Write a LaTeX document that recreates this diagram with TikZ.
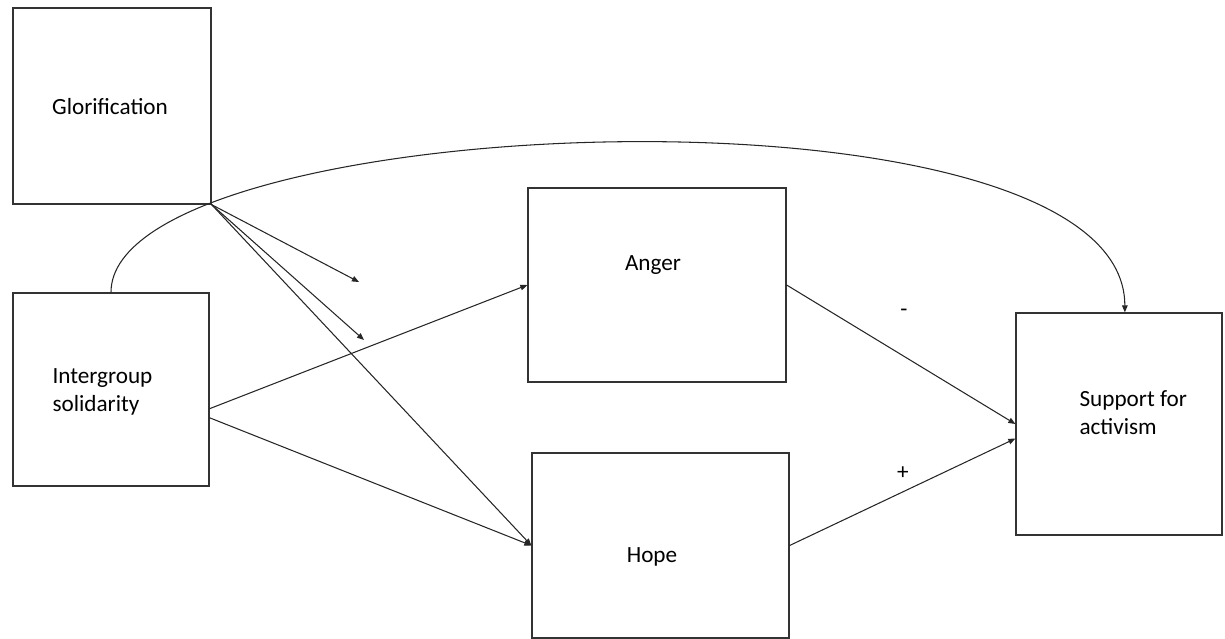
\documentclass[tikz,border=0pt]{standalone}
\usepackage{fontspec}
\setmainfont{Carlito}
\usetikzlibrary{arrows.meta}

\begin{document}
\begin{tikzpicture}[x=0.02cm,y=-0.02cm,>={Triangle[length=4pt,width=3.2pt]},
  font=\fontsize{13.2}{16}\selectfont,line width=0.6pt,
  box/.style={draw=black!80,line width=0.75pt,inner sep=0pt},
  txt/.style={inner sep=0pt,align=left},
  link/.style={draw=black!85,->}]
\useasboundingbox (0,0) rectangle (1225,639);
% boxes
\node[box,minimum width=3.96cm,minimum height=3.92cm] (glor) at (112,106) {};
\node[box,minimum width=3.92cm,minimum height=3.86cm] (inter) at (111,389.5) {};
\node[box,minimum width=5.16cm,minimum height=3.88cm] (anger) at (657,285) {};
\node[box,minimum width=5.14cm,minimum height=3.70cm] (hope) at (660.5,545.5) {};
\node[box,minimum width=4.12cm,minimum height=4.44cm] (support) at (1119,424) {};
% texts
\node[txt] (glorTxt) at (110,107) {Glorification};
\node[txt,anchor=west] (interTxt) at (52,392) {Intergroup\\solidarity};
\node[txt] (angerTxt) at (653,265) {Anger};
\node[txt] (hopeTxt) at (652,557) {Hope};
\node[txt,anchor=west] (suppTxt) at (1079,413) {Support for\\activism};
\node[txt] (minus) at (904,313) {-};
\node[txt] (plus) at (903,473) {+};
% free arrow ends
\coordinate (tipA) at (359,282);
\coordinate (tipB) at (364,340);
% paths
\draw[link] (glor.south east) -- (tipA);
\draw[link] (glor.south east) -- (tipB);
\draw[link] (glor.south east) -- (hope.west);
\draw[link] (inter.-11.8) -- (anger.west);
\draw[link] (inter.-16.2) -- (hope.west);
\draw[link] (anger.east) -- (support.west);
\draw[link] (hope.east) -- (support.188.8);
\draw[link] (inter.north) .. controls +(0,-183) and +(0,-243) .. (support.87);
\end{tikzpicture}
\end{document}
